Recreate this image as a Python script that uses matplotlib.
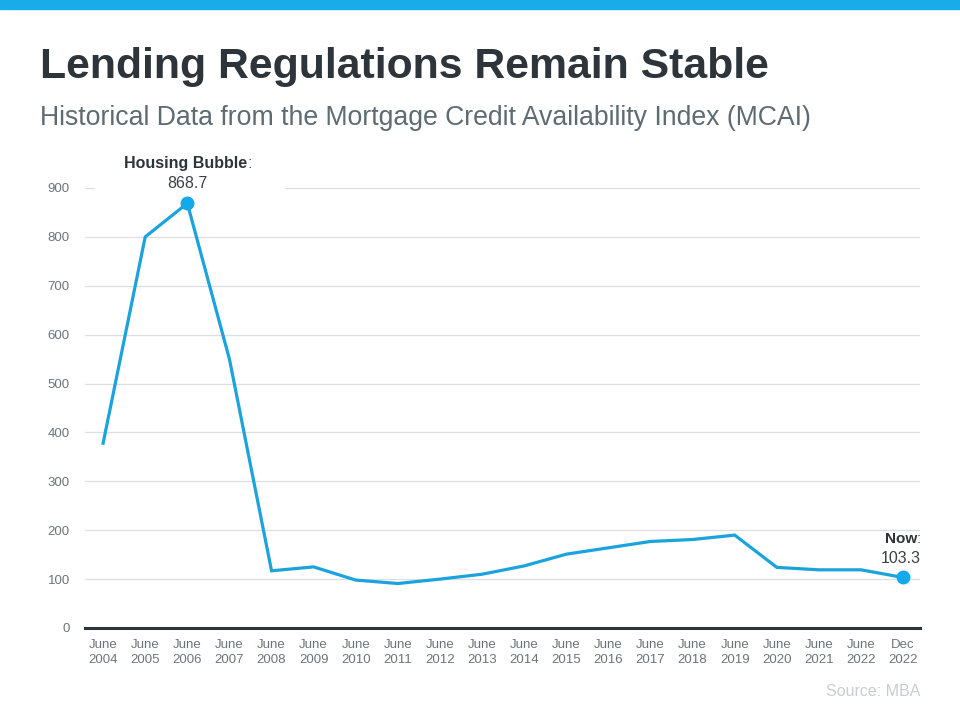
import matplotlib.pyplot as plt
from matplotlib.patches import Rectangle

plt.rcParams['font.family'] = ['Liberation Sans', 'DejaVu Sans']

# data
MONTHS = ['June', 'June', 'June', 'June', 'June', 'June', 'June', 'June', 'June', 'June',
          'June', 'June', 'June', 'June', 'June', 'June', 'June', 'June', 'June', 'Dec']
YEARS = ['2004', '2005', '2006', '2007', '2008', '2009', '2010', '2011', '2012', '2013',
         '2014', '2015', '2016', '2017', '2018', '2019', '2020', '2021', '2022', '2022']
MCAI = [378, 800, 868.7, 550, 117, 125, 98, 91, 100, 110,
        127, 151, 164, 177, 181, 190, 124, 119, 119, 103.3]
Y_TICKS = [0, 100, 200, 300, 400, 500, 600, 700, 800, 900]

LINE = '#1ba3dd'
DOT = '#12aaeb'
DARK = '#2d343a'

fig = plt.figure(figsize=(9.6, 7.05), dpi=100)
fig.patches.append(Rectangle((0, 1 - 9 / 705), 1, 9 / 705, transform=fig.transFigure,
                             color='#18ace9', zorder=0))

fig.text(40 / 960, 1 - 67 / 705, 'Lending Regulations Remain Stable', fontsize=30.8,
         fontweight='bold', color=DARK, va='center', ha='left')
fig.text(40 / 960, 1 - 118 / 705, 'Historical Data from the Mortgage Credit Availability Index (MCAI)',
         fontsize=19.2, color='#5f6b73', va='center', ha='left')

ax = fig.add_axes([85 / 960, 1 - 628 / 705, 835 / 960, 440 / 705])
x = list(range(len(MCAI)))
ax.plot(x, MCAI, color=LINE, lw=2.3, zorder=3, solid_joinstyle='miter')
ax.plot([2, 19], [MCAI[2], MCAI[19]], 'o', color=DOT, ms=9, zorder=4)

ax.set_xlim(-0.43, 19.4)
ax.set_ylim(0, 900)
ax.set_yticks(Y_TICKS)
ax.set_xticks(x)
ax.set_xticklabels([f'{m}\n{y}' for m, y in zip(MONTHS, YEARS)], linespacing=1.35)
ax.tick_params(axis='both', length=0, labelsize=9.5, labelcolor='#6c747c')
ax.tick_params(axis='x', pad=8)
ax.tick_params(axis='y', pad=11)
ax.grid(axis='y', color='#dcdfe2', lw=0.9)
ax.set_axisbelow(True)
for s in ['top', 'right', 'left']:
    ax.spines[s].set_visible(False)
ax.spines['bottom'].set_color(DARK)
ax.spines['bottom'].set_linewidth(2.2)

# peak annotation
ax.annotate('Housing Bubble', xy=(2, MCAI[2]), xytext=(43, 29), textcoords='offset points',
            ha='right', va='center', fontsize=11.5, fontweight='bold', color=DARK,
            annotation_clip=False)
ax.annotate(':', xy=(2, MCAI[2]), xytext=(43, 29), textcoords='offset points',
            ha='left', va='center', fontsize=11.5, color='#555c63', annotation_clip=False)
ax.annotate(f'{MCAI[2]}', xy=(2, MCAI[2]), xytext=(0, 14.5), textcoords='offset points',
            ha='center', va='center', fontsize=11.5, color='#3a4046', annotation_clip=False)
# white space behind the top gridline where the label sits
ax.add_patch(Rectangle((-0.2, 880), 4.5, 40, color='white', zorder=1.5, clip_on=False))

# current value annotation
ax.annotate('Now', xy=(19, MCAI[19]), xytext=(10, 28), textcoords='offset points',
            ha='right', va='center', fontsize=11, fontweight='bold', color=DARK,
            annotation_clip=False)
ax.annotate(':', xy=(19, MCAI[19]), xytext=(10, 28), textcoords='offset points',
            ha='left', va='center', fontsize=11, color='#555c63', annotation_clip=False)
ax.annotate(f'{MCAI[19]}', xy=(19, MCAI[19]), xytext=(-1.5, 14), textcoords='offset points',
            ha='center', va='center', fontsize=11.5, color='#3a4046', annotation_clip=False)

fig.text(920 / 960, 1 - 692 / 705, 'Source: MBA', fontsize=11.5, color='#c8cdd1',
         ha='right', va='center')

fig.savefig('out.png', dpi=100)
